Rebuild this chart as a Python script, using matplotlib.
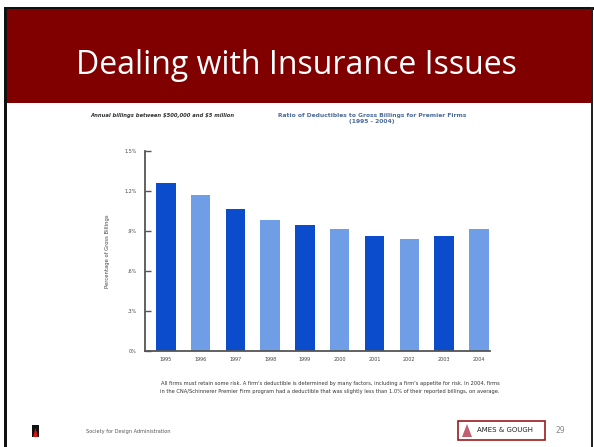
import matplotlib.pyplot as plt
from matplotlib.patches import Rectangle, Polygon

years = ['1995', '1996', '1997', '1998', '1999', '2000', '2001', '2002', '2003', '2004']
ratio = [1.26, 1.17, 1.06, 0.98, 0.94, 0.91, 0.86, 0.84, 0.86, 0.91]
ytick_vals = [0, 0.3, 0.6, 0.9, 1.2, 1.5]
ytick_labels = ['0%', '.3%', '.6%', '.9%', '1.2%', '1.5%']

dark_blue = '#0a4ccc'
light_blue = '#6f9de6'
bar_colors = [dark_blue if i % 2 == 0 else light_blue for i in range(len(years))]

W, H = 594, 447
fig = plt.figure(figsize=(W / 100, H / 100), dpi=100)
fig.patch.set_facecolor('white')

def fx(x):
    return x / W

def fy(y):
    return 1 - y / H

def box(x0, y0, x1, y1, **kw):
    # rectangle given in pixel coords (top-left origin)
    fig.patches.append(Rectangle((fx(x0), fy(y1)), fx(x1 - x0), (y1 - y0) / H,
                                 transform=fig.transFigure, **kw))

# slide frame and title band
box(4, 6.5, 594, 9.5, facecolor='#111111', edgecolor='none')
box(3.5, 6.5, 6.5, 447, facecolor='#111111', edgecolor='none')
box(591, 6.5, 593, 447, facecolor='#222222', edgecolor='none')
box(6.5, 9.5, 591, 102.5, facecolor='#800000', edgecolor='none')
fig.text(fx(296), fy(65), 'Dealing with Insurance Issues', color='white', fontsize=23,
         family='Open Sans', ha='center', va='center')

# chart
ax = fig.add_axes([fx(145), fy(351), fx(345), (351 - 150.7) / H])
ax.bar(range(len(years)), ratio, width=0.56, color=bar_colors, zorder=2)
ax.set_ylim(0, 1.5)
ax.set_xlim(-0.6, 9.32)
ax.set_yticks(ytick_vals)
ax.set_yticklabels(ytick_labels)
ax.set_xticks(range(len(years)))
ax.set_xticklabels(years)
ax.tick_params(axis='y', direction='in', length=4, width=1, color='#555555',
               labelsize=3.5, labelcolor='#444444', pad=6)
ax.tick_params(axis='x', length=0, labelsize=3.5, labelcolor='#444444', pad=4)
for s in ['top', 'right']:
    ax.spines[s].set_visible(False)
for s in ['left', 'bottom']:
    ax.spines[s].set_color('#555555')
    ax.spines[s].set_linewidth(1.3)
ax.set_ylabel('Percentage of Gross Billings', fontsize=3.8, color='#444444', labelpad=10)

fig.text(fx(90), fy(116), r'Annual billings between \$500,000 and \$5 million', fontsize=3.8,
         style='italic', weight='bold', color='#333333', ha='left', va='center')
fig.text(fx(372), fy(118.5), 'Ratio of Deductibles to Gross Billings for Premier Firms\n(1995 - 2004)',
         fontsize=4.3, weight='bold', color='#4a6a9a', ha='center', va='center',
         linespacing=1.2)

fig.text(fx(330), fy(387.5),
         "All firms must retain some risk. A firm's deductible is determined by many factors, including a firm's appetite for risk. In 2004, firms\n"
         "in the CNA/Schinnerer Premier Firm program had a deductible that was slightly less than 1.0% of their reported billings, on average.",
         fontsize=3.7, color='#333333', ha='center', va='center', linespacing=1.6)

# footer
box(32, 425, 39, 437, facecolor='#111111', edgecolor='none')
fig.patches.append(Polygon([(fx(33), fy(437)), (fx(35.5), fy(428)), (fx(38), fy(437))],
                           closed=True, transform=fig.transFigure,
                           facecolor='#e01010', edgecolor='none'))
fig.text(fx(86), fy(431), 'Society for Design Administration', fontsize=3.6, color='#555555',
         ha='left', va='center')
box(458, 420.5, 545, 440, facecolor='white', edgecolor='#9b1b1b', linewidth=1.2)
fig.patches.append(Polygon([(fx(462), fy(437)), (fx(467), fy(424)), (fx(472), fy(437))],
                           closed=True, transform=fig.transFigure,
                           facecolor='#c06070', edgecolor='none'))
fig.text(fx(477), fy(430.5), 'AMES & GOUGH', fontsize=5, color='#222222', ha='left', va='center')
fig.text(fx(556), fy(430.5), '29', fontsize=5.5, color='#888888', ha='left', va='center')

fig.savefig('out.png', dpi=100)
